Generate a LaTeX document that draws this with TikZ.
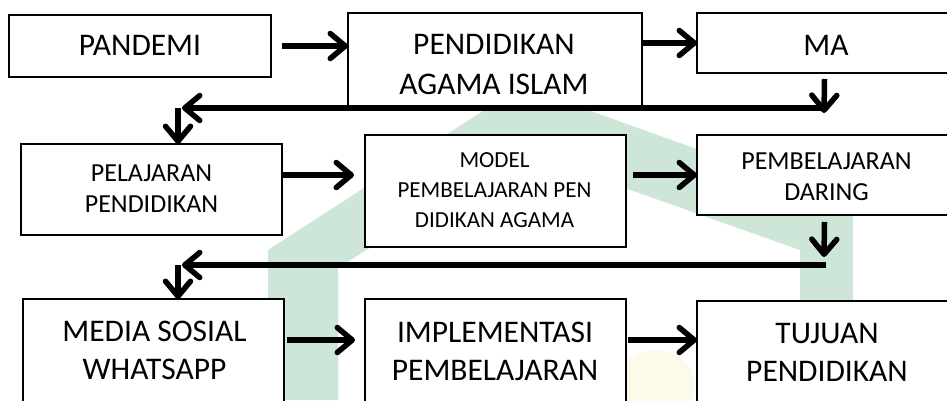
\documentclass[tikz,border=0pt]{standalone}
\usepackage{fontspec}
\setmainfont{Carlito}
\usetikzlibrary{arrows.meta}
\definecolor{wmgreen}{RGB}{206,230,215}
\definecolor{wmyellow}{RGB}{252,250,232}
\begin{document}
\begin{tikzpicture}[x=1pt,y=-1pt,
  box/.style={draw=black, line width=1.8pt, fill=white, rectangle, inner sep=0pt, outer sep=0pt},
  txt/.style={align=center, inner sep=0pt, text=black},
  big/.style={font=\fontsize{31.5}{38}\selectfont},
  bigA/.style={font=\fontsize{31.5}{40}\selectfont},
  mid/.style={font=\fontsize{26}{31}\selectfont},
  sml/.style={font=\fontsize{23}{30}\selectfont},
  arr/.style={line width=5.5pt, -{Straight Barb[length=15pt,width=25pt,line cap=round,line join=round]}},
]
\useasboundingbox (0,0) rectangle (947,400);
\fill[white] (0,0) rectangle (947,400);
% watermark
\fill[wmgreen] (268,400) -- (268,250) -- (500,100) -- (560,100) -- (853,205) -- (853,300) -- (800,300) -- (800,250) -- (560,165) -- (500,165) -- (338,268) -- (338,400) -- cycle;
\fill[wmyellow] (655,385) ellipse (40 and 35);
% boxes
\node[box, minimum width=262pt, minimum height=62pt]  (b1) at (140,46) {};
\node[box, minimum width=294pt, minimum height=93pt]  (b2) at (495,59.5) {};
\node[box, minimum width=255pt, minimum height=60pt]  (b3) at (824.5,43) {};
\node[box, minimum width=261pt, minimum height=91pt]  (b4) at (151.5,189.5) {};
\node[box, minimum width=261pt, minimum height=112pt] (b5) at (495.5,191) {};
\node[box, minimum width=255pt, minimum height=80pt]  (b6) at (824.5,175) {};
\node[box, minimum width=261pt, minimum height=111pt] (b7) at (153.5,354.5) {};
\node[box, minimum width=261pt, minimum height=111pt] (b8) at (495.5,354.5) {};
\node[box, minimum width=255pt, minimum height=109pt] (b9) at (824.5,355.5) {};
% texts
\node[txt,big]  (t1) at (140,45.5) {PANDEMI};
\node[txt,bigA] (t2) at (494,64) {PENDIDIKAN\\AGAMA ISLAM};
\node[txt,big]  (t3) at (826,45) {MA};
\node[txt,mid]  (t4) at (151.5,188.5) {PELAJARAN\\PENDIDIKAN};
\node[txt,sml]  (t5) at (494.5,190) {MODEL\\PEMBELAJARAN PEN\\DIDIKAN AGAMA};
\node[txt,mid]  (t6) at (826.5,177) {PEMBELAJARAN\\DARING};
\node[txt,big]  (t7) at (154.5,350.5) {MEDIA SOSIAL\\WHATSAPP};
\node[txt,big]  (t8) at (495,351) {IMPLEMENTASI\\PEMBELAJARAN};
\node[txt,big]  (t9) at (827,352) {TUJUAN\\PENDIDIKAN};
% connectors row 1
\draw[arr] ([xshift=11pt]b1.east) -- (b1.east -| b2.west);
\draw[arr] (b3.west -| b2.east) -- (b3.west);
\coordinate (d1) at (824,113);
\coordinate (h1a) at (826,108);
\coordinate (h1b) at (182,108);
\coordinate (v1) at (178,108);
\draw[arr] ([yshift=-6pt]b3.south) -- (d1);
\draw[arr] (h1a) -- (h1b);
\draw[arr] (v1) -- (v1 |- b4.north);
% row 2
\draw[arr] ([yshift=14.5pt]b4.east) -- ++(72,0);
\draw[arr] ([xshift=7pt]b5.east |- b6.west) -- (b6.west);
\coordinate (d2) at (824,257);
\coordinate (h2a) at (826,265);
\coordinate (h2b) at (182,265);
\coordinate (v2) at (178,265);
\draw[arr] ([yshift=-7pt]b6.south) -- (d2);
\draw[arr] (h2a) -- (h2b);
\draw[arr] (v2) -- (v2 |- b7.north);
% row 3
\draw[arr] ([xshift=3pt,yshift=14.5pt]b7.east) -- ++(68,0);
\draw[arr] ([xshift=2pt,yshift=14.5pt]b8.east) -- ([yshift=14.5pt]b8.east -| b9.west);
\end{tikzpicture}
\end{document}
